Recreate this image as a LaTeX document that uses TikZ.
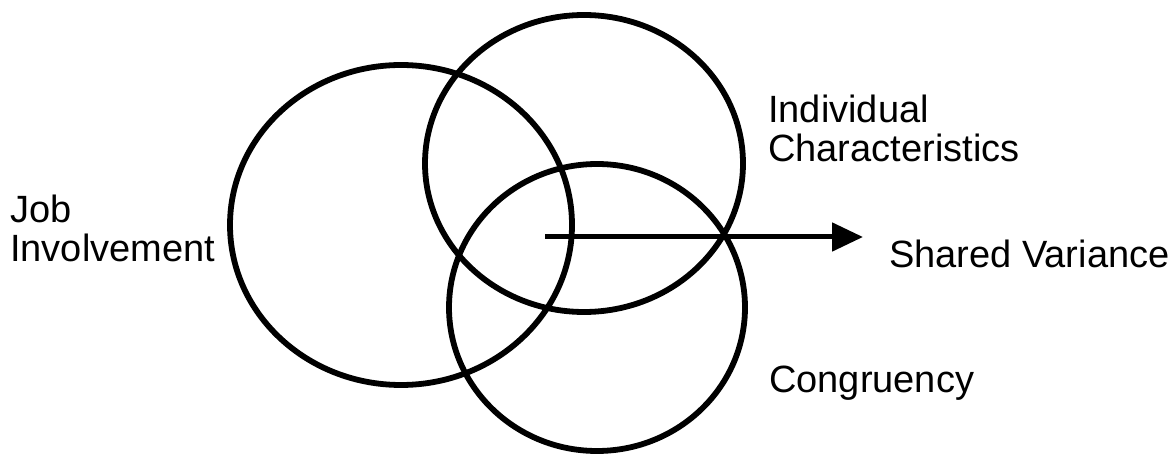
\documentclass[tikz,border=0pt]{standalone}
\usepackage{fontspec}
\setmainfont{Liberation Sans}
\usetikzlibrary{arrows.meta}
\tikzset{
  venn/.style={draw=black, line width=5.8pt},
  lbl/.style={inner sep=0pt, align=left, font=\fontsize{38}{39}\selectfont, text=black},
  pointer/.style={line width=5pt, -{Triangle[length=31pt,width=28pt]}}
}
\begin{document}
\begin{tikzpicture}[x=1pt,y=-1pt]
\useasboundingbox (0,0) rectangle (1176,457);
% circles
\draw[venn] (401,225) ellipse [x radius=171, y radius=160];
\draw[venn] (584,163.5) ellipse [x radius=159, y radius=148.5];
\draw[venn] (597,307.5) ellipse [x radius=148, y radius=143.5];
% labels
\node[lbl, anchor=north west] (job) at (10,195) {Job\\Involvement};
\node[lbl, anchor=north west] (ind) at (768,95) {Individual\\Characteristics};
\node[lbl, anchor=base west] (sv) at (889,268) {Shared Variance};
\node[lbl, anchor=base west] (cong) at (769,392) {Congruency};
% arrow
\coordinate (astart) at (545,237);
\coordinate (aend) at (863,237);
\draw[pointer] (astart) -- (aend);
\end{tikzpicture}
\end{document}
